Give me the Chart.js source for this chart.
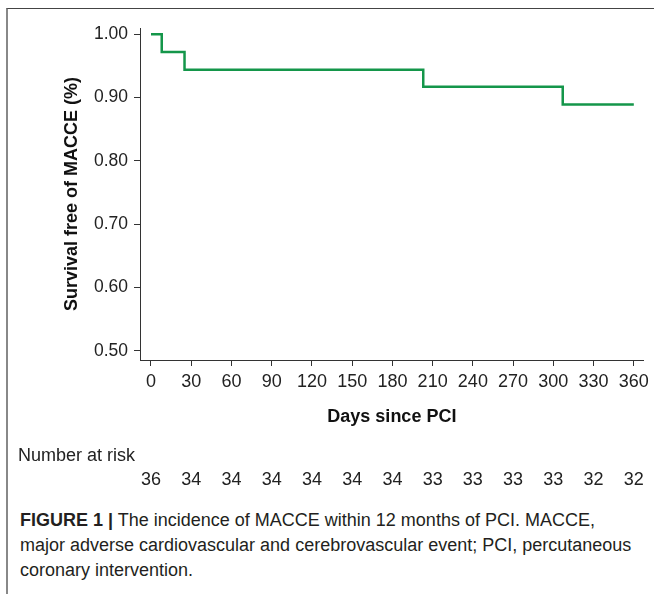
<!DOCTYPE html>
<html>
<head>
<meta charset="utf-8">
<script src="https://cdn.jsdelivr.net/npm/chart.js@4.4.1/dist/chart.umd.min.js"></script>
<style>
  body { margin: 0; background: #fff; width: 654px; height: 594px; overflow: hidden; position: relative; font-family: "Liberation Sans", Arial, sans-serif; }
  #frame { position: absolute; left: 6px; top: 8px; width: 660px; height: 600px; border-top: 1px solid #444; border-left: 2px solid #888; }
  #chart { position: absolute; left: 0; top: 0; }
  #caption { position: absolute; left: 20px; top: 508px; font-size: 18px; line-height: 25px; color: #231f20; white-space: nowrap; }
</style>
</head>
<body>
<div id="frame"></div>
<canvas id="chart" width="654" height="500"></canvas>
<div id="caption"><b>FIGURE 1 |</b> The incidence of MACCE within 12 months of PCI. MACCE,<br>major adverse cardiovascular and cerebrovascular event; PCI, percutaneous<br>coronary intervention.</div>
<script>
// survival curve (step points)
const days = [0, 8, 25, 203, 307, 360];
const survival = [1.000, 0.972, 0.944, 0.917, 0.889, 0.889];

// axis ticks
const xTicks = [0, 30, 60, 90, 120, 150, 180, 210, 240, 270, 300, 330, 360];
const yTicks = [0.50, 0.60, 0.70, 0.80, 0.90, 1.00];

// number at risk under each x tick
const riskDays = xTicks;
const atRisk = [36, 34, 34, 34, 34, 34, 34, 33, 33, 33, 33, 32, 32];

Chart.defaults.font.family = '"Liberation Sans", Arial, sans-serif';
Chart.defaults.font.size = 18;
Chart.defaults.color = '#222';

const riskTable = {
    id: 'riskTable',
    afterDraw(chart) {
        const ctx = chart.ctx;
        const xs = chart.scales.x;
        ctx.save();
        ctx.fillStyle = '#222';
        ctx.font = '18px "Liberation Sans", Arial, sans-serif';
        ctx.textBaseline = 'middle';
        ctx.textAlign = 'left';
        ctx.fillText('Number at risk', 18, 456);
        ctx.textAlign = 'center';
        for (let i = 0; i < riskDays.length; i++) {
            ctx.fillText(String(atRisk[i]), xs.getPixelForValue(riskDays[i]), 480);
        }
        ctx.restore();
    }
};

const ctx = document.getElementById('chart').getContext('2d');
new Chart(ctx, {
    type: 'line',
    data: {
        datasets: [{
            data: days.map((d, i) => ({ x: d, y: survival[i] })),
            borderColor: '#14964a',
            borderWidth: 2.5,
            pointRadius: 0,
            stepped: 'before',
            fill: false
        }]
    },
    options: {
        responsive: false,
        animation: false,
        layout: { padding: { top: 28, right: 9, bottom: 70, left: 0 } },
        plugins: { legend: { display: false }, tooltip: { enabled: false } },
        scales: {
            x: {
                type: 'linear',
                min: -8.2,
                max: 367.4,
                afterBuildTicks: s => { s.ticks = xTicks.map(v => ({ value: v })); },
                afterFit: s => { s.height = 70; },
                grid: { drawOnChartArea: false, drawTicks: true, tickLength: 6, color: '#333' },
                border: { display: true, color: '#333', width: 1 },
                ticks: { padding: 5, maxRotation: 0, autoSkip: false, color: '#222', font: { size: 18 } },
                title: { display: true, text: 'Days since PCI', font: { weight: 'bold', size: 18 }, color: '#111', padding: { top: 3, bottom: 2 } }
            },
            y: {
                min: 0.4853,
                max: 1.010,
                afterBuildTicks: s => { s.ticks = yTicks.map(v => ({ value: v })); },
                afterFit: s => { s.width = 140; },
                grid: { drawOnChartArea: false, drawTicks: true, tickLength: 6, color: '#333' },
                border: { display: true, color: '#333', width: 1 },
                ticks: { padding: 6, color: '#222', font: { size: 17.5 }, callback: v => v.toFixed(2) },
                title: { display: true, text: 'Survival free of MACCE (%)', font: { weight: 'bold', size: 18 }, color: '#111', padding: { top: 61, bottom: 0 } }
            }
        }
    },
    plugins: [riskTable]
});
</script>
</body>
</html>
